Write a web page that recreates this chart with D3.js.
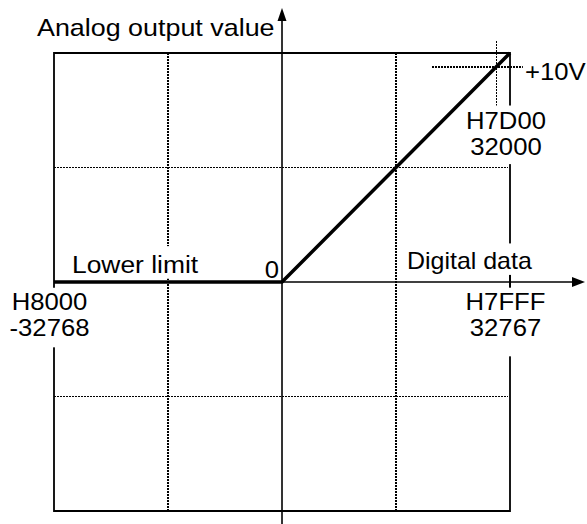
<!DOCTYPE html>
<html>
<head>
<meta charset="utf-8">
<script src="https://cdn.jsdelivr.net/npm/d3@7/dist/d3.min.js"></script>
<style>
  html, body { margin: 0; padding: 0; background: #fff; }
  svg { display: block; }
  text { font-family: "Liberation Sans", Arial, sans-serif; font-size: 24px; fill: #000; }
</style>
</head>
<body>
<svg id="chart" width="587" height="524"></svg>
<script>
// ---------- data ----------
const digital = [-32768, 0, 32767];          // digital input values
const analog = [0, 0, 10.64];                // analog output (V) drawn at those inputs
const gridX = [-16384, 16384];               // dotted vertical grid
const gridY = [-5.32, 5.32];                 // dotted horizontal grid
const markerDigital = 30800;                 // where the line reaches +10V (as drawn)
const markerAnalog = 10;
const xTickValues = [-32768, 32767];
const xTickHex = ["H8000", "H7FFF"];
const xTickDec = ["-32768", "32767"];
const markerHex = "H7D00";
const markerDec = "32000";
const markerVolt = "+10V";
const yTitle = "Analog output value";
const xTitle = "Digital data";
const lowerLabel = "Lower limit";
const zeroLabel = "0";

// ---------- scales ----------
const svg = d3.select("#chart");
const x = d3.scaleLinear().domain([-32768, 32767]).range([54, 510]);
const y = d3.scaleLinear().domain([-10.64, 10.64]).range([511, 53]);
const x0 = x(0), y0 = y(0);
const xL = x(-32768), xR = x(32767), yT = y(10.64), yB = y(-10.64);

const gLines = svg.append("g");
const gBoxes = svg.append("g");
const gAxes = svg.append("g");
const gText = svg.append("g");

const dotted = sel => sel.attr("stroke", "#000").attr("stroke-width", 1.6)
  .attr("stroke-dasharray", "2,1").attr("fill", "none").attr("shape-rendering", "crispEdges");

// grid
gLines.selectAll(".gx").data(gridX).join("line")
  .attr("x1", d => x(d)).attr("x2", d => x(d)).attr("y1", yT).attr("y2", yB).call(dotted);
gLines.selectAll(".gy").data(gridY).join("line")
  .attr("y1", d => y(d)).attr("y2", d => y(d)).attr("x1", xL).attr("x2", xR - 2).call(dotted);

// marker dotted lines
const mx = x(markerDigital), my = y(markerAnalog);
gLines.append("line").attr("x1", mx).attr("x2", mx).attr("y1", yT - 12).attr("y2", my + 40).call(dotted);
gLines.append("line").attr("x1", mx - 64).attr("x2", xR + 13).attr("y1", my).attr("y2", my).call(dotted);

// frame
gLines.append("path")
  .attr("d", `M${xL},${y0}V${yT}H${xR}V${yB}H${xL}V${y0}`)
  .attr("fill", "none").attr("stroke", "#000").attr("stroke-width", 1.8);

// ---------- text with white boxes ----------
function label(lines, px, py, anchor, pad, sx) {
  const tf = `translate(${px},${py}) scale(${sx},1)`;
  const tg = gText.append("g").attr("transform", tf);
  const t = tg.append("text").attr("x", 0).attr("y", 0).attr("text-anchor", anchor);
  lines.forEach((s, i) => {
    t.append("tspan").attr("x", 0).attr("dy", i === 0 ? 0 : 26.5).text(s);
  });
  const b = t.node().getBBox();
  gBoxes.append("rect")
    .attr("transform", tf)
    .attr("x", b.x - pad[3]).attr("y", b.y - pad[0])
    .attr("width", b.width + pad[1] + pad[3]).attr("height", b.height + pad[0] + pad[2])
    .attr("fill", "#fff");
  return t;
}

label([yTitle], 37, 36, "start", [2, 2, 2, 2], 1.12);
label([lowerLabel], xL + 18, y0 - 9, "start", [5, 3, 1, 3], 1.1);
label([zeroLabel], x0 - 3, y0 - 4, "end", [1, 1, 1, 1], 1.07);
label([xTitle], x0 + 125, y0 - 13, "start", [4, 3, 1, 3], 1.04);
xTickValues.forEach((v, i) => {
  label([xTickHex[i], xTickDec[i]], x(v) - 4.5, y0 + 28, "middle", [1, 3, i === 0 ? 6 : 15, 3], 1.07);
});
label([markerHex, markerDec], xR - 4, my + 62, "middle", [2, 3, 4, 3], 1.07);
label([markerVolt], xR + 15, my + 13, "start", [2, 2, 2, 2], 1.07);

// ---------- axes ----------
gAxes.append("line").attr("x1", x0).attr("x2", x0).attr("y1", yB + 13).attr("y2", yT - 33)
  .attr("stroke", "#000").attr("stroke-width", 1.6);
gAxes.append("path")
  .attr("d", `M${x0},${yT - 45}L${x0 - 4.5},${yT - 32}L${x0 + 4.5},${yT - 32}Z`).attr("fill", "#000");
gAxes.append("line").attr("x1", xL).attr("x2", xR + 63).attr("y1", y0).attr("y2", y0)
  .attr("stroke", "#000").attr("stroke-width", 1.6);
gAxes.append("path")
  .attr("d", `M${xR + 75},${y0}L${xR + 62},${y0 - 5}L${xR + 62},${y0 + 5}Z`).attr("fill", "#000");
// short tick of the right frame at the axis
gAxes.append("line").attr("x1", xR).attr("x2", xR).attr("y1", y0 - 7).attr("y2", y0 + 5)
  .attr("stroke", "#000").attr("stroke-width", 1.8);

// ---------- data line ----------
const pts = digital.map((d, i) => [d, analog[i]]);
gAxes.append("path")
  .datum(pts)
  .attr("d", d3.line().x(d => x(d[0])).y(d => y(d[1])))
  .attr("fill", "none").attr("stroke", "#000").attr("stroke-width", 3.5)
  .attr("stroke-linejoin", "miter");

gText.raise();
</script>
</body>
</html>
